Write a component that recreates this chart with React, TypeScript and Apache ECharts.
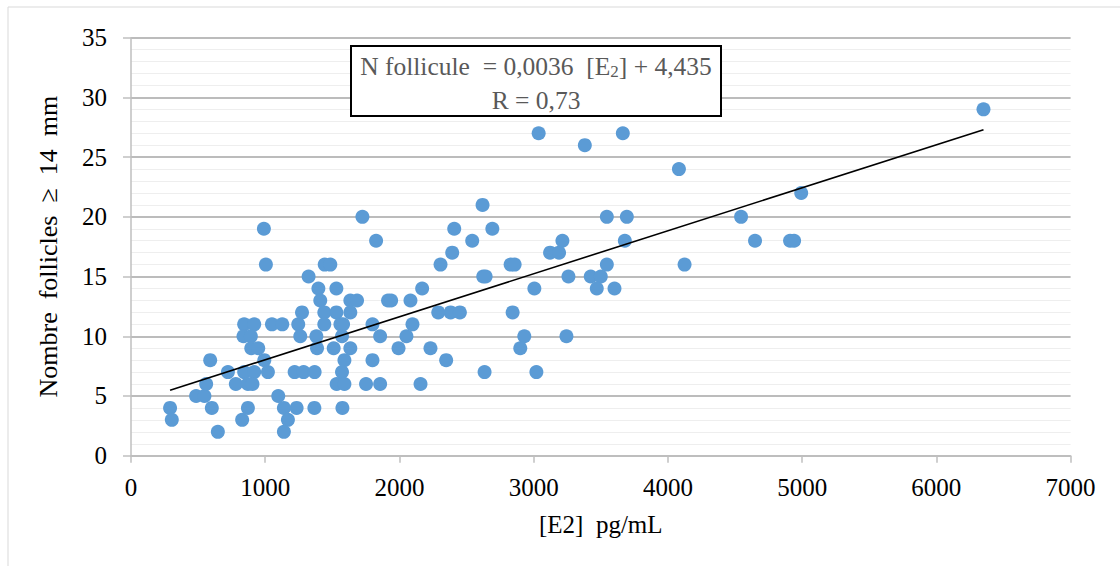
import React, { useEffect, useRef } from "react";
import * as echarts from "echarts";

// [E2] pg/mL values
const e2Values: number[] = [
  291, 304, 485, 547, 560, 590, 602, 647, 722, 781, 828, 843, 918, 838, 893, 896, 948, 843, 918, 871,
  905, 871, 990, 1005, 993, 1020, 1050, 1127, 1097, 1139, 1169, 1139, 1234, 1219, 1286, 1368, 1366, 1246, 1261, 1274,
  1323, 1381, 1386, 1396, 1410, 1440, 1440, 1443, 1485, 1530, 1530, 1560, 1580, 1572, 1510, 1634, 1590, 1572, 1532, 1590,
  1575, 1634, 1684, 1634, 1724, 1826, 1799, 1799, 1751, 1856, 1856, 1915, 1938, 1993, 2052, 2082, 2097, 2157, 2169,
  2231, 2306, 2348, 2289, 2381, 2450, 2393, 2408, 2542, 2619, 2624, 2642, 2634, 2692, 2828, 2858, 2843, 2930, 2900,
  3005, 3020, 3122, 3189, 3214, 3259, 3244, 3425, 3500, 3470, 3545, 3545, 3602, 3679, 3694, 4124,
  3037, 3381, 3664, 4082, 4993, 6351, 4545, 4649, 4910, 4940,
];
// Nombre follicles >= 14 mm
const follicleCounts: number[] = [
  4, 3, 5, 5, 6, 8, 4, 2, 7, 6, 3, 11, 11, 10, 10, 9, 9, 7, 7, 6,
  6, 4, 19, 16, 8, 7, 11, 11, 5, 4, 3, 2, 4, 7, 7, 7, 4, 11, 10, 12,
  15, 10, 9, 14, 13, 12, 11, 16, 16, 14, 12, 11, 11, 10, 9, 9, 8, 7, 6, 6,
  4, 13, 13, 12, 20, 18, 11, 8, 6, 6, 10, 13, 13, 9, 10, 13, 11, 6, 14,
  9, 16, 8, 12, 12, 12, 17, 19, 18, 21, 15, 15, 7, 19, 16, 16, 12, 10, 9,
  14, 7, 17, 17, 18, 15, 10, 15, 15, 14, 16, 20, 14, 18, 20, 16,
  27, 26, 27, 24, 22, 29, 20, 18, 18, 18,
];

const slope = 0.0036;
const intercept = 4.435;
const rValue = "0,73";

const xTicks = { min: 0, max: 7000, interval: 1000 };
const yTicks = { min: 0, max: 35, interval: 5 };

const FONT = "'Liberation Serif', 'Times New Roman', serif";

export default function App() {
  const ref = useRef<HTMLDivElement>(null);

  useEffect(() => {
    if (!ref.current) return;
    const chart = echarts.init(ref.current, undefined, { renderer: "svg" });

    const points = e2Values.map((x, i) => [x, follicleCounts[i]]);
    const xMin = Math.min(...e2Values);
    const xMax = Math.max(...e2Values);
    const trend = [
      [xMin, slope * xMin + intercept],
      [xMax, slope * xMax + intercept],
    ];

    chart.setOption({
      animation: false,
      backgroundColor: "#ffffff",
      grid: { left: 131, right: 49.4, top: 37.7, bottom: 110.3, containLabel: false },
      xAxis: {
        type: "value",
        min: xTicks.min,
        max: xTicks.max,
        interval: xTicks.interval,
        name: "[E2]  pg/mL",
        nameLocation: "middle",
        nameGap: 56,
        nameTextStyle: { fontFamily: FONT, fontSize: 25, color: "#000" },
        axisLine: { show: true, lineStyle: { color: "#bfbfbf", width: 1.5 } },
        axisTick: { show: true, length: 7, lineStyle: { color: "#bfbfbf", width: 1.5 } },
        axisLabel: {
          fontFamily: FONT,
          fontSize: 25,
          color: "#000",
          margin: 19,
          formatter: (v: number) => String(v),
        },
        splitLine: { show: false },
      },
      yAxis: {
        type: "value",
        min: yTicks.min,
        max: yTicks.max,
        interval: yTicks.interval,
        name: "Nombre  follicles  \u2265  14  mm",
        nameLocation: "middle",
        nameGap: 70,
        nameTextStyle: { fontFamily: FONT, fontSize: 26, color: "#000" },
        axisLine: { show: true, lineStyle: { color: "#bfbfbf", width: 1.5 } },
        axisTick: { show: true, length: 8, lineStyle: { color: "#bfbfbf", width: 1.5 } },
        axisLabel: {
          fontFamily: FONT,
          fontSize: 25,
          color: "#000",
          margin: 24,
          formatter: (v: number) => String(v),
        },
        splitLine: { show: true, lineStyle: { color: "#a6a6a6", width: 1.5 } },
        minorTick: { show: false, splitNumber: 5 },
        minorSplitLine: { show: true, lineStyle: { color: "#eeeeee", width: 1.2 } },
      },
      series: [
        {
          type: "scatter",
          data: points,
          symbol: "circle",
          symbolSize: 14,
          itemStyle: { color: "#5b9bd5", opacity: 1 },
          z: 2,
        },
        {
          type: "line",
          data: trend,
          symbol: "none",
          lineStyle: { color: "#000", width: 1.6 },
          z: 3,
          silent: true,
        },
      ],
      graphic: [
        {
          type: "rect",
          shape: { x: 8, y: 7, width: 1200, height: 700 },
          style: { fill: "none", stroke: "#d9d9d9", lineWidth: 1 },
          silent: true,
          z: 0,
        },
        {
          type: "rect",
          shape: { x: 351, y: 46, width: 370, height: 70 },
          style: { fill: "#ffffff", stroke: "#000000", lineWidth: 2 },
          z: 10,
        },
        {
          type: "text",
          x: 536,
          y: 66,
          z: 11,
          style: {
            text: "{a|N follicule  = 0,0036  [E}{s|2}{a|] + 4,435}",
            align: "center",
            verticalAlign: "middle",
            fontFamily: FONT,
            fontSize: 25.5,
            fill: "#595959",
            rich: {
              a: { fontFamily: FONT, fontSize: 25.5, fill: "#595959", lineHeight: 28 },
              s: { fontFamily: FONT, fontSize: 17, fill: "#595959", lineHeight: 28, verticalAlign: "bottom" },
            },
          },
        },
        {
          type: "text",
          x: 536,
          y: 100,
          z: 11,
          style: {
            text: "R = " + rValue,
            align: "center",
            verticalAlign: "middle",
            fontFamily: FONT,
            fontSize: 25.5,
            fill: "#595959",
          },
        },
      ],
    });

    return () => chart.dispose();
  }, []);

  return (
    <div
      ref={ref}
      style={{ position: "fixed", left: 0, top: 0, width: 1120, height: 566, background: "#fff" }}
    />
  );
}
